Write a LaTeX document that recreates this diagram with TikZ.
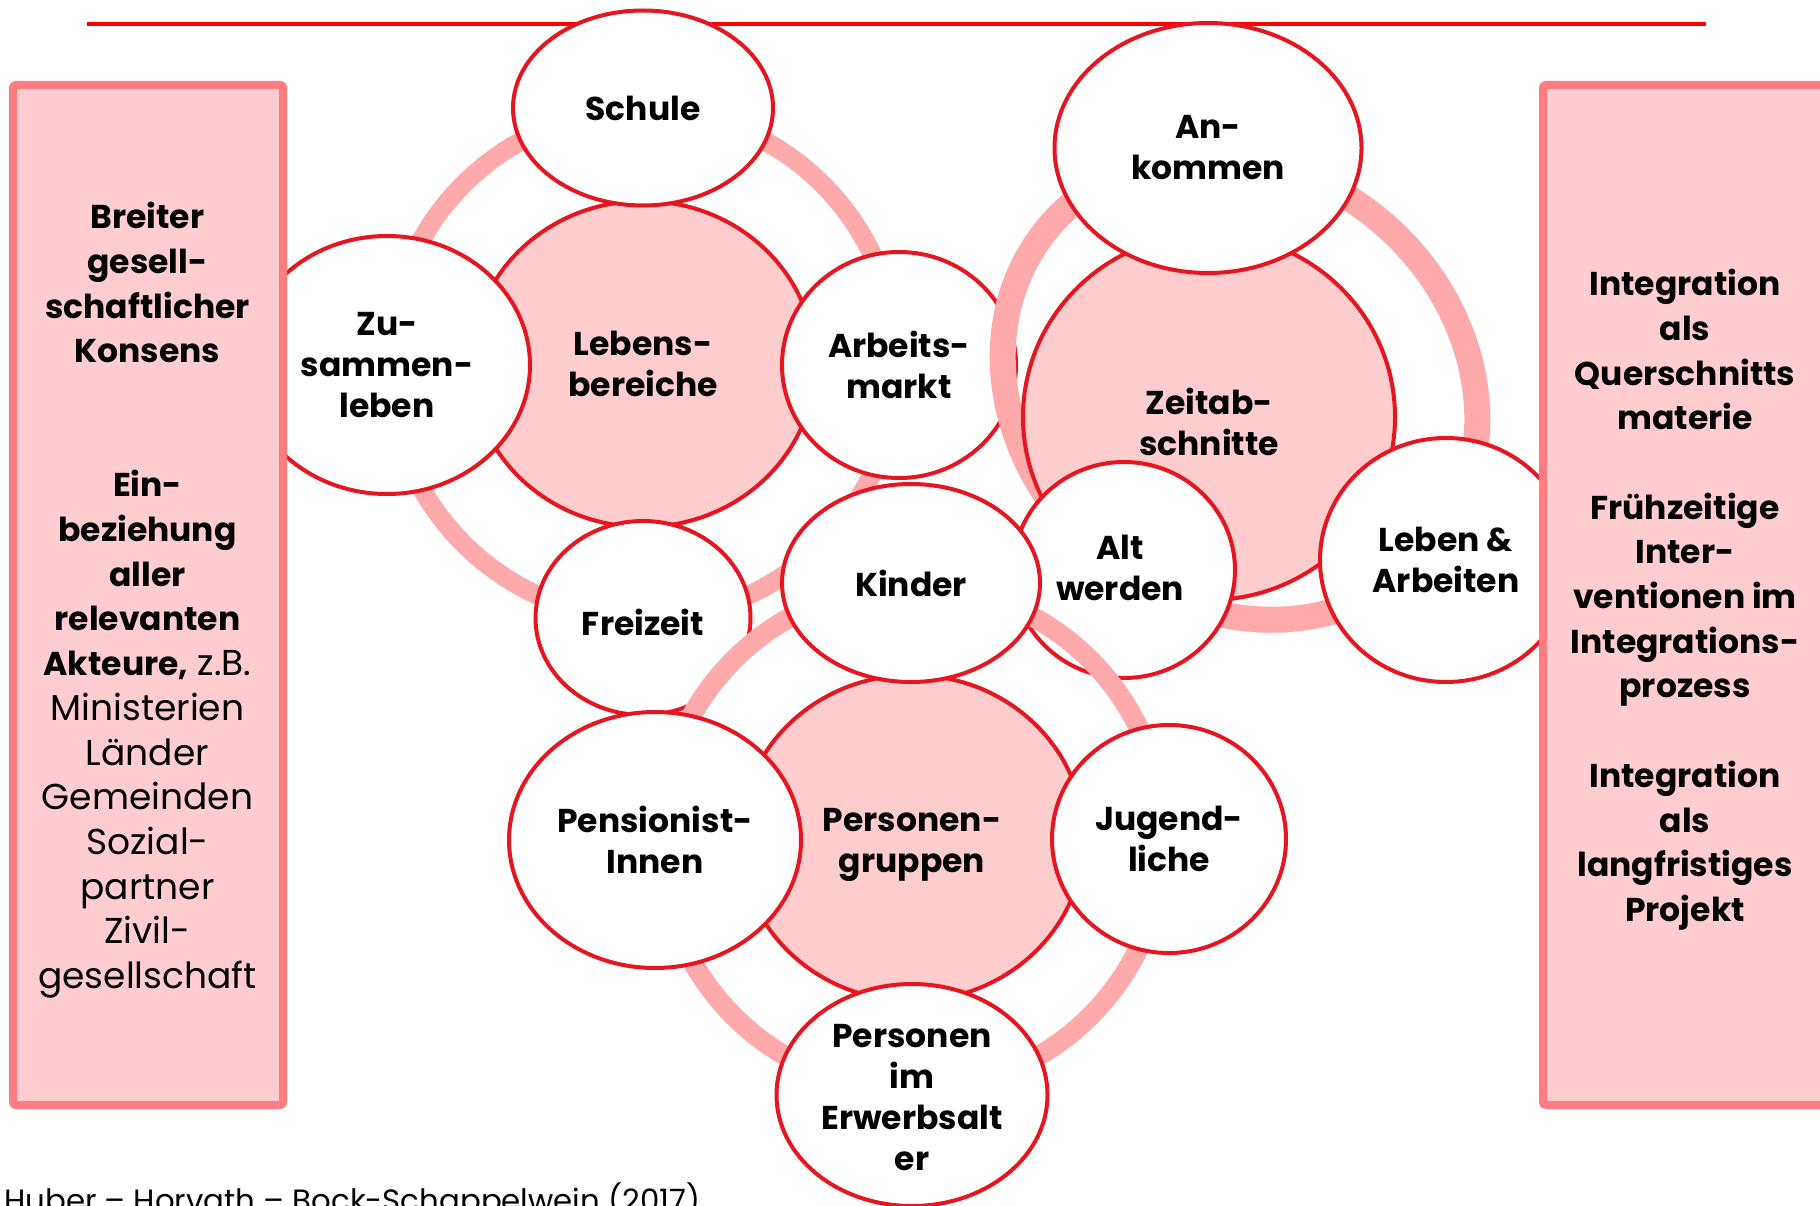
\documentclass[tikz,border=0pt]{standalone}
\usepackage{fontspec}
\setmainfont{Poppins}
\usetikzlibrary{shapes.geometric}
\definecolor{topred}{RGB}{255,0,0}
\definecolor{outl}{RGB}{230,22,32}
\definecolor{ringc}{RGB}{255,170,170}
\definecolor{ctrfill}{RGB}{255,205,205}
\definecolor{boxfill}{RGB}{255,205,207}
\definecolor{boxline}{RGB}{255,124,128}
\newcommand{\regl}[1]{{\mdseries\fontsize{36}{44.7}\selectfont #1}}
\begin{document}
\begin{tikzpicture}[x=1pt,y=-1pt,
  sat/.style={ellipse, draw=outl, line width=4pt, fill=white, inner sep=0pt},
  ctr/.style={ellipse, draw=outl, line width=4pt, fill=ctrfill, inner sep=0pt},
  ring/.style={draw=ringc},
  lbl/.style={align=center, inner sep=0pt, font=\bfseries\fontsize{33}{41}\selectfont},
  panel/.style={rectangle, draw=boxline, fill=boxfill, line width=8pt, rounded corners=3pt, inner sep=0pt},
  paneltext/.style={align=center, inner sep=0pt, anchor=north, font=\bfseries\fontsize{33}{44.7}\selectfont}]
\useasboundingbox (0,0) rectangle (1820,1206);
\fill[white] (0,0) rectangle (1820,1206);

% top rule
\coordinate (tl1) at (87,24);
\coordinate (tl2) at (1706,24);
\draw[draw=topred, line width=4pt] (tl1) -- (tl2);

% ---------- cluster 1: Lebensbereiche ----------
\coordinate (c1) at (643,364);
\draw[ring, line width=19pt] (c1) circle[radius=254pt];
\node[ctr, minimum width=344pt, minimum height=326pt] (leb) at (c1) {};
\node[lbl] (leb-t) at (leb) {Lebens-\\bereiche};
\node[sat, minimum width=260pt, minimum height=195pt] (schule) at (643,108) {};
\node[lbl] (schule-t) at (schule) {Schule};
\node[sat, minimum width=286pt, minimum height=258pt] (zus) at (387,365) {};
\node[lbl] (zus-t) at (zus) {Zu-\\sammen-\\leben};
\node[sat, minimum width=234pt, minimum height=226pt] (arb) at (899,365) {};
\node[lbl] (arb-t) at (arb) {Arbeits-\\markt};
\node[sat, minimum width=215pt, minimum height=194pt] (frei) at (643,618) {};
\node[lbl] (frei-t) at (643,622) {Freizeit};

% ---------- cluster 2: Zeitabschnitte ----------
\coordinate (c2) at (1240,388);
\draw[ring, line width=26pt, rotate around={-40:(c2)}] (c2) ellipse[x radius=250pt, y radius=218pt];
\node[ctr, minimum width=372pt, minimum height=366pt] (zeit) at (1209,417) {};
\node[lbl] (zeit-t) at (1209,422) {Zeitab-\\schnitte};
\node[sat, minimum width=307pt, minimum height=250pt] (ank) at (1208,148) {};
\node[lbl] (ank-t) at (ank) {An-\\kommen};
\node[sat, minimum width=252pt, minimum height=244pt] (leben) at (1446,560) {};
\node[lbl] (leben-t) at (leben) {Leben \&\\Arbeiten};
\node[sat, minimum width=222pt, minimum height=216pt] (alt) at (1124,570) {};
\node[lbl] (alt-t) at (1120,568) {Alt\\werden};

% ---------- cluster 3: Personengruppen ----------
\coordinate (c3) at (912,838);
\draw[ring, line width=20pt] (c3) circle[radius=252pt];
\node[ctr, minimum width=344pt, minimum height=326pt] (pg) at (c3) {};
\node[lbl] (pg-t) at (912,845) {Personen-\\gruppen};
\node[sat, minimum width=258pt, minimum height=198pt] (kind) at (911,583) {};
\node[lbl] (kind-t) at (kind) {Kinder};
\node[sat, minimum width=292pt, minimum height=256pt] (pens) at (655,840) {};
\node[lbl] (pens-t) at (pens) {Pensionist-\\Innen};
\node[sat, minimum width=234pt, minimum height=228pt] (jug) at (1169,839) {};
\node[lbl] (jug-t) at (jug) {Jugend-\\liche};
\node[sat, minimum width=271pt, minimum height=222pt] (erw) at (912,1095) {};
\node[lbl] (erw-t) at (912,1098) {Personen\\im\\Erwerbsalt\\er};

% ---------- side panels ----------
\node[panel, minimum width=270pt, minimum height=1020pt] (lpanel) at (148,595) {};
\node[paneltext] (lpanel-t) at (147.5,202) {Breiter\\gesell-\\schaftlicher\\Konsens\\[89.4pt]Ein-\\beziehung\\aller\\relevanten\\Akteure,\regl{ z.B.}\\\regl{Ministerien}\\\regl{L\"ander}\\\regl{Gemeinden}\\\regl{Sozial-}\\\regl{partner}\\\regl{Zivil-}\\\regl{gesellschaft}};
\node[panel, minimum width=297pt, minimum height=1020pt] (rpanel) at (1691.5,595) {};
\node[paneltext] (rpanel-t) at (1685,269) {Integration\\als\\Querschnitts\\materie\\[44.7pt]Fr\"uhzeitige\\Inter-\\ventionen im\\Integrations-\\prozess\\[44.7pt]Integration\\als\\langfristiges\\Projekt};

% source line
\node[anchor=base west, inner sep=0pt, font=\fontsize{30.8}{36}\selectfont] (src) at (4,1211) {Huber -- Horvath -- Bock-Schappelwein (2017)};
\end{tikzpicture}
\end{document}
